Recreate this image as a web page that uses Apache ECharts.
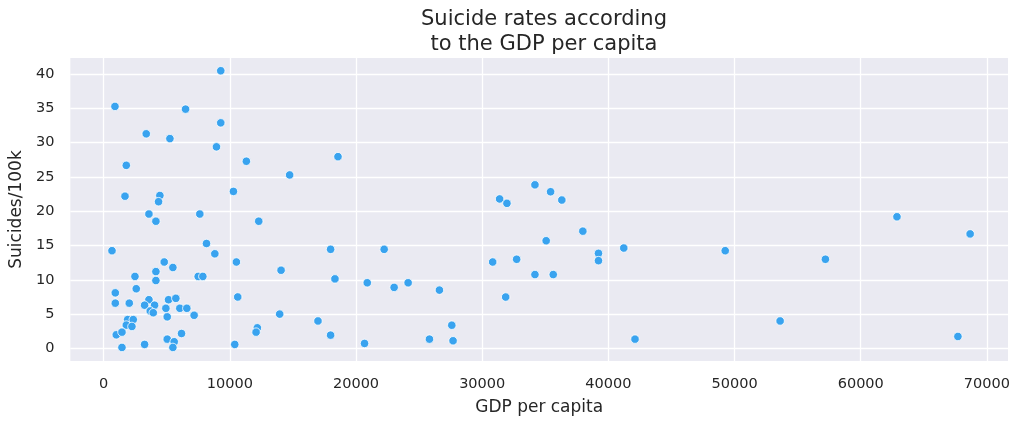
<!DOCTYPE html>
<html>
<head>
<meta charset="utf-8">
<script src="https://cdn.jsdelivr.net/npm/echarts@6/dist/echarts.min.js"></script>
<style>
html,body{margin:0;padding:0;background:#fff;}
#chart{width:1013px;height:421px;}
</style>
</head>
<body>
<div id="chart"></div>
<script>
const gdpPerCapita = [9280, 896, 6490, 9280, 3375, 5250, 8940, 1793, 11310, 14740,
  1690, 4456, 4350, 10285, 3587, 7620, 4140, 12290, 660, 8150,
  8810, 10520, 4800, 5485, 14060, 4140, 2480, 7490, 7860, 4140,
  2583, 922, 10625, 922, 2030, 3587, 5140, 5720, 3244, 4035,
  4930, 6036, 6590, 3693, 3930, 5037, 7170, 13950, 1900, 2346,
  1793, 2240, 12180, 12080, 1000, 1450, 6170, 5037, 5590, 3244,
  10390, 1450, 5485, 18570, 17985, 22230, 18330, 20890, 23020, 24130,
  26610, 16985, 17985, 20675, 25820, 27590, 27690, 31380, 31960, 34180,
  35420, 36310, 35070, 30830, 32730, 34180, 35630, 31860, 37975, 39215,
  39215, 41220, 49260, 42110, 53610, 57200, 62870, 68670, 67700];
const suicidesPer100k = [40.5, 35.3, 34.9, 32.9, 31.3, 30.6, 29.4, 26.7, 27.3, 25.3,
  22.2, 22.3, 21.4, 22.9, 19.6, 19.6, 18.55, 18.55, 14.25, 15.3,
  13.8, 12.6, 12.6, 11.8, 11.4, 11.2, 10.5, 10.5, 10.5, 9.9,
  8.7, 8.1, 7.5, 6.6, 6.6, 7.1, 7.1, 7.3, 6.3, 6.3,
  5.85, 5.85, 5.85, 5.46, 5.2, 4.6, 4.83, 5.0, 4.2, 4.2,
  3.4, 3.2, 3.0, 2.37, 1.98, 2.37, 2.17, 1.35, 0.97, 0.58,
  0.58, 0.14, 0.14, 27.97, 14.45, 14.45, 10.14, 9.57, 8.9, 9.57,
  8.5, 4.0, 1.93, 0.72, 1.35, 3.38, 1.11, 21.8, 21.16, 23.86,
  22.85, 21.64, 15.7, 12.6, 13.0, 10.77, 10.77, 7.49, 17.1, 13.86,
  12.8, 14.64, 14.25, 1.35, 4.0, 13.0, 19.2, 16.7, 1.74];
const xTicks = [0, 10000, 20000, 30000, 40000, 50000, 60000, 70000];
const yTicks = [0, 5, 10, 15, 20, 25, 30, 35, 40];

const points = gdpPerCapita.map((g, i) => [g, suicidesPer100k[i]]);
const textColor = '#262626';
const font = 'DejaVu Sans';

const chart = echarts.init(document.getElementById('chart'), null, {renderer: 'canvas'});
chart.setOption({
  animation: false,
  backgroundColor: '#ffffff',
  title: {
    text: 'Suicide rates according\nto the GDP per capita',
    left: 539, top: 2, textAlign: 'center',
    textStyle: {fontFamily: font, fontSize: 21, fontWeight: 'normal', color: textColor, lineHeight: 25}
  },
  grid: {left: 70, right: 5, top: 58, bottom: 58, show: true, backgroundColor: '#eaeaf2', borderWidth: 0},
  xAxis: {
    type: 'value', min: -2640, max: 71670,
    name: 'GDP per capita', nameLocation: 'middle', nameGap: 38,
    nameTextStyle: {fontFamily: font, fontSize: 17, color: textColor},
    axisLine: {show: false},
    axisTick: {show: false, customValues: xTicks},
    axisLabel: {
      fontFamily: font, fontSize: 14.5, color: textColor, margin: 16,
      customValues: xTicks,
      formatter: v => String(v)
    },
    splitLine: {show: true, lineStyle: {color: '#ffffff', width: 1.3}}
  },
  yAxis: {
    type: 'value', min: -1.84, max: 42.36,
    name: 'Suicides/100k', nameLocation: 'middle', nameGap: 42, nameRotate: 90,
    nameTextStyle: {fontFamily: font, fontSize: 17, color: textColor},
    axisLine: {show: false},
    axisTick: {show: false, customValues: yTicks},
    axisLabel: {
      fontFamily: font, fontSize: 14.5, color: textColor, margin: 16,
      customValues: yTicks,
      formatter: v => String(v)
    },
    splitLine: {show: true, lineStyle: {color: '#ffffff', width: 1.3}}
  },
  series: [{
    type: 'scatter',
    data: points,
    symbolSize: 8.5,
    itemStyle: {color: '#39a3ef', borderColor: '#ffffff', borderWidth: 0.8, opacity: 1}
  }]
});
</script>
</body>
</html>
